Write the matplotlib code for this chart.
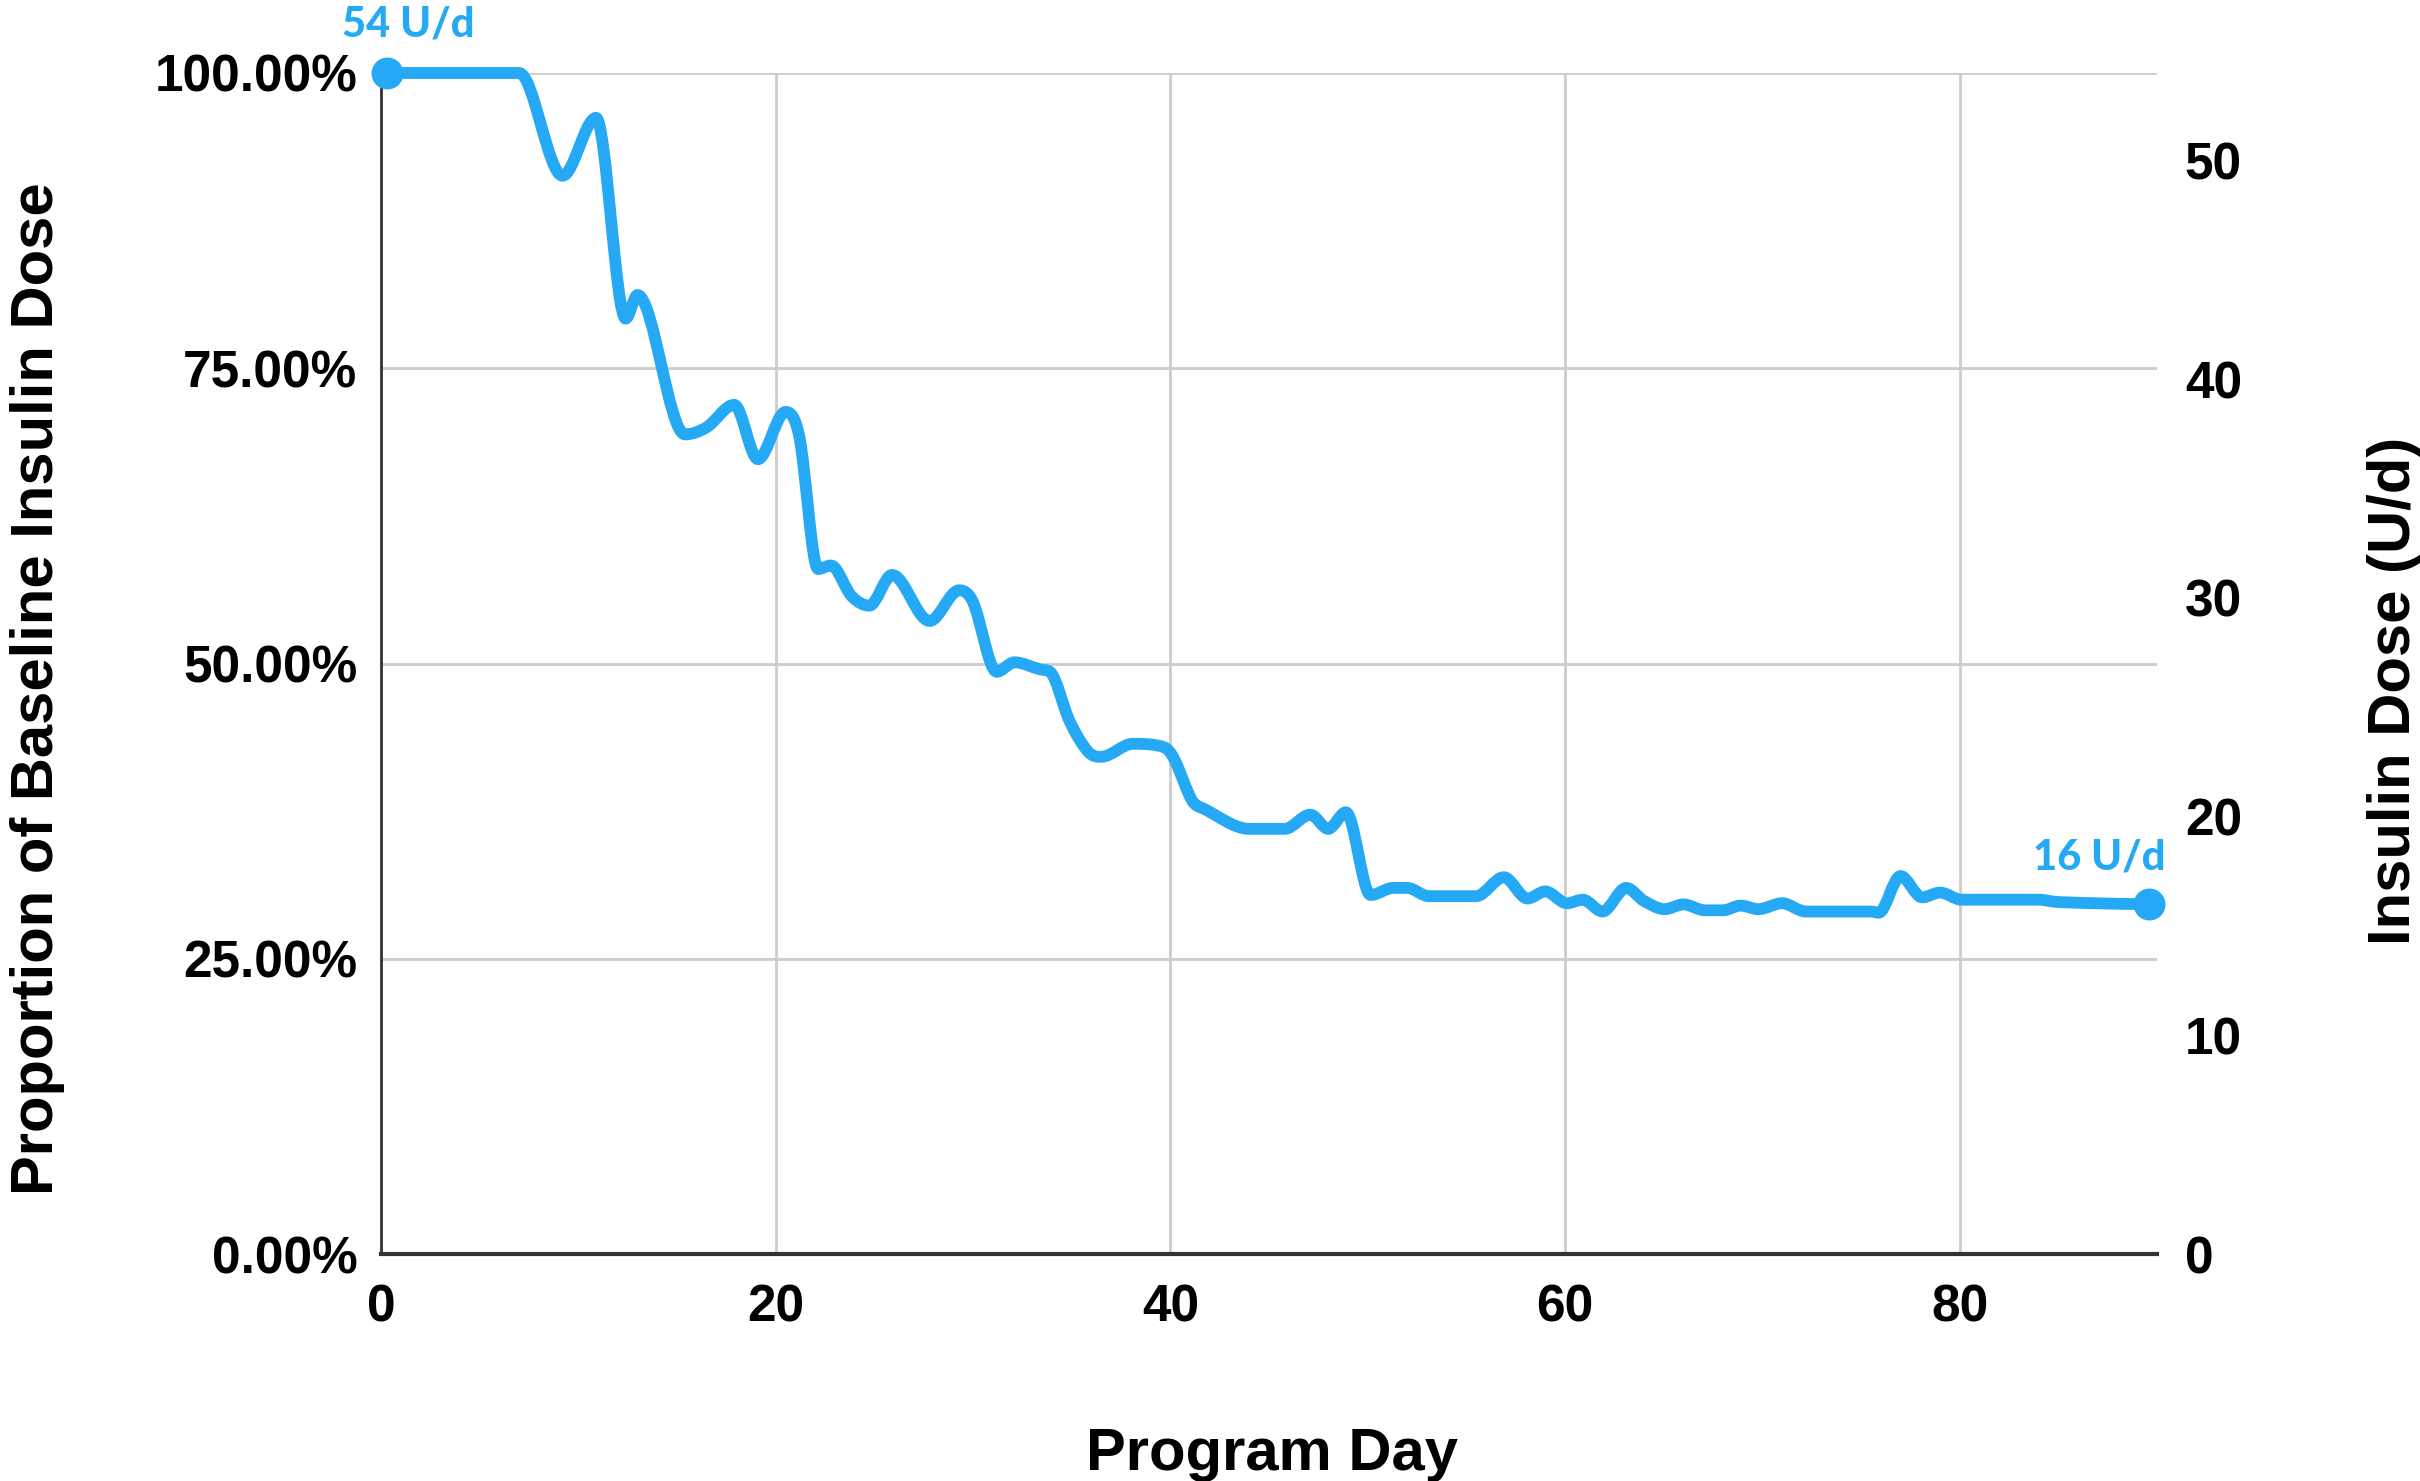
import numpy as np
import matplotlib
matplotlib.use("Agg")
import matplotlib.pyplot as plt
from matplotlib.path import Path
from matplotlib.patches import PathPatch

# Program day and proportion of baseline insulin dose (%)
days = [0.3, 6.0, 7.0, 9.2, 10.9, 12.4, 13.0, 15.4, 16.5, 17.9, 19.1, 20.5,
        21.2, 22.15, 22.8, 23.85, 24.75, 25.9, 27.8, 29.3, 30.0, 31.2, 32.1,
        33.4, 33.9, 34.9, 35.85, 36.5, 38.1, 39.7, 40.2, 41.1, 41.7, 44.0,
        45.8, 47.1, 48.0, 48.9, 50.15, 51.3, 52.0, 53.1, 55.5, 56.9, 58.1,
        59.0, 60.1, 60.9, 61.9, 63.1, 64.0, 65.05, 66.0, 67.1, 68.0, 68.9,
        69.8, 71.0, 72.2, 75.5, 75.9, 77.0, 78.1, 79.0, 80.1, 84.0, 85.0, 89.6]
proportion = [100.0, 100.0, 100.0, 91.3, 96.2, 79.2, 81.2, 69.4, 70.0, 71.9,
              67.3, 71.3, 69.2, 58.0, 58.3, 55.7, 54.9, 57.5, 53.6, 56.2, 55.2,
              49.3, 50.1, 49.5, 49.3, 45.1, 42.5, 42.1, 43.2, 42.9, 41.9, 38.4,
              37.7, 36.0, 36.0, 37.2, 36.0, 37.4, 30.4, 31.0, 31.0, 30.3, 30.3,
              31.9, 30.1, 30.7, 29.7, 30.0, 29.0, 31.0, 29.9, 29.2, 29.6, 29.1,
              29.1, 29.5, 29.2, 29.7, 29.0, 29.0, 28.9, 32.0, 30.2, 30.6, 30.0,
              30.0, 29.8, 29.63]

# Daily insulin dose (U/d) at the start and end of the program
dose_days = [0.3, 89.6]
dose_values = [54, 16]
dose_labels = ["54 U/d", "16 U/d"]

x_ticks = [0, 20, 40, 60, 80]
pct_ticks = [0, 25, 50, 75, 100]
dose_ticks = [0, 10, 20, 30, 40, 50]

BLUE = "#25A9F5"
GRID = "#cccccc"
AXIS = "#333333"

plt.rcParams["font.family"] = ["Liberation Sans", "DejaVu Sans"]
plt.rcParams["font.weight"] = "bold"


def smooth_path(x, y):
    """Cubic Bezier path through the points, flat at local extrema."""
    x = np.asarray(x, float)
    y = np.asarray(y, float)
    n = len(x)
    d = np.diff(y) / np.diff(x)
    m = np.zeros(n)
    for i in range(1, n - 1):
        if d[i - 1] * d[i] > 0:
            s = (y[i + 1] - y[i - 1]) / (x[i + 1] - x[i - 1])
            lim = 3 * min(abs(d[i - 1]), abs(d[i]))
            m[i] = np.sign(s) * min(abs(s), lim)
    verts = [(x[0], y[0])]
    codes = [Path.MOVETO]
    for i in range(n - 1):
        h = x[i + 1] - x[i]
        verts += [(x[i] + h / 3, y[i] + m[i] * h / 3),
                  (x[i + 1] - h / 3, y[i + 1] - m[i + 1] * h / 3),
                  (x[i + 1], y[i + 1])]
        codes += [Path.CURVE4] * 3
    return Path(verts, codes)


W, H = 2420, 1481
fig = plt.figure(figsize=(W / 100, H / 100), dpi=100)
left, right, top, bottom = 381, 2157, 73, 1254
ax = fig.add_axes([left / W, 1 - bottom / H, (right - left) / W, (bottom - top) / H])

ax.set_xlim(0, 90)
ax.set_ylim(0, 100)
ax.set_xticks(x_ticks)
ax.set_yticks(pct_ticks)
ax.set_yticklabels([f"{v:.2f}%" for v in pct_ticks])
ax.grid(True, color=GRID, lw=2)
ax.set_axisbelow(True)
for s in ("top", "right"):
    ax.spines[s].set_visible(False)
ax.spines["left"].set_color(AXIS)
ax.spines["left"].set_linewidth(2)
ax.spines["bottom"].set_color(AXIS)
ax.spines["bottom"].set_linewidth(3)
ax.tick_params(axis="y", length=0, labelsize=37, pad=17)
ax.tick_params(axis="x", length=0, labelsize=37, pad=21)

line = PathPatch(smooth_path(days, proportion), facecolor="none", edgecolor=BLUE,
                 lw=8.5, capstyle="round", joinstyle="round", clip_on=False, zorder=3)
ax.add_patch(line)

ax2 = ax.twinx()
ax2.set_ylim(0, 54)
ax2.set_yticks(dose_ticks)
for s in ax2.spines.values():
    s.set_visible(False)
ax2.tick_params(axis="y", length=0, labelsize=37, pad=20)

ax2.plot(dose_days, dose_values, "o", ms=22, color=BLUE, ls="none",
         clip_on=False, zorder=5)
ax2.annotate(dose_labels[0], xy=(dose_days[0], dose_values[0]),
             xytext=(15, 26), textcoords="offset points", ha="center",
             va="baseline", color=BLUE, fontsize=30, fontweight="black",
             family=["Lato", "DejaVu Sans"], annotation_clip=False)
ax2.annotate(dose_labels[1], xy=(dose_days[1], dose_values[1]),
             xytext=(12, 25), textcoords="offset points", ha="right",
             va="baseline", color=BLUE, fontsize=30, fontweight="black",
             family=["Lato", "DejaVu Sans"], annotation_clip=False)

fig.text(38 / W, 1 - 689 / H, "Proportion of Baseline Insulin Dose", rotation=90,
         ha="center", va="center", fontsize=43, fontweight="bold")
fig.text(2395 / W, 1 - 691 / H, "Insulin Dose (U/d)", rotation=90,
         ha="center", va="center", fontsize=43, fontweight="bold")
fig.text(1272 / W, 1 - 1470 / H, "Program Day", ha="center", va="baseline",
         fontsize=43, fontweight="bold")

fig.savefig("out.png", dpi=100, facecolor="white")
